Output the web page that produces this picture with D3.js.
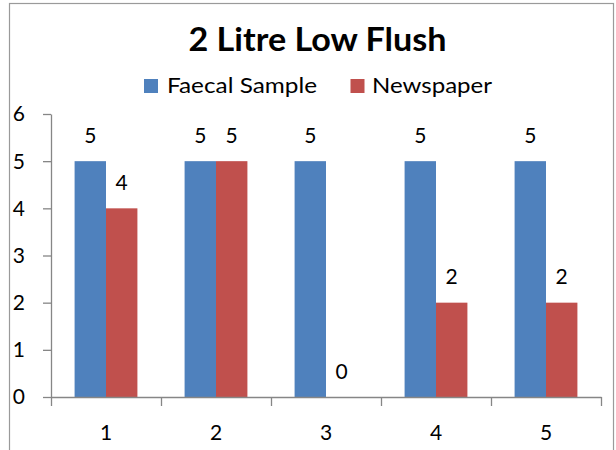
<!DOCTYPE html>
<html>
<head>
<meta charset="utf-8">
<script src="https://cdn.jsdelivr.net/npm/d3@7"></script>
<style>
  html, body { margin: 0; padding: 0; background: #fff; }
  svg { display: block; font-family: Lato, "Open Sans", sans-serif; }
</style>
</head>
<body>
<svg id="chart" width="616" height="450"></svg>
<script>
// Chart data
const title = "2 Litre Low Flush";
const categories = ["1", "2", "3", "4", "5"];
const seriesNames = ["Faecal Sample", "Newspaper"];
const faecalSample = [5, 5, 5, 5, 5];
const newspaper = [4, 5, 0, 2, 2];
const yTicks = [0, 1, 2, 3, 4, 5, 6];
const colors = ["#4F81BD", "#C0504D"];

const seriesValues = [faecalSample, newspaper];
const table = categories.map((c, i) => ({
  category: c,
  values: seriesNames.map((s, j) => ({ series: s, idx: j, value: seriesValues[j][i] }))
}));

const svg = d3.select("#chart");
const axisColor = "#868686";
const numFont = 21;

// Outer chart frame
svg.append("rect")
  .attr("x", 9.5).attr("y", 3.5)
  .attr("width", 604).attr("height", 470)
  .attr("fill", "#fff")
  .attr("stroke", "#9a9a9a").attr("stroke-width", 1.2);

// Plot area
const plotLeft = 51, plotRight = 601, plotTop = 114, plotBottom = 397;

const x = d3.scaleBand()
  .domain(categories)
  .range([plotLeft, plotRight])
  .paddingInner(0.429)
  .paddingOuter(0.2145);

const xSeries = d3.scaleBand()
  .domain(seriesNames)
  .range([0, x.bandwidth()]);

const y = d3.scaleLinear()
  .domain([0, 6])
  .range([plotBottom, plotTop]);

// Bars
const groups = svg.append("g").selectAll("g")
  .data(table).join("g")
  .attr("transform", d => `translate(${x(d.category)},0)`);

groups.selectAll("rect")
  .data(d => d.values).join("rect")
  .attr("x", d => xSeries(d.series))
  .attr("y", d => y(d.value))
  .attr("width", xSeries.bandwidth())
  .attr("height", d => y(0) - y(d.value))
  .attr("fill", d => colors[d.idx]);

// Value labels above each bar
groups.selectAll("text")
  .data(d => d.values).join("text")
  .attr("x", d => xSeries(d.series) + xSeries.bandwidth() / 2)
  .attr("y", d => y(d.value) - 18.5)
  .attr("text-anchor", "middle")
  .attr("font-size", numFont)
  .attr("fill", "#000")
  .text(d => d.value);

// Y axis
const yAxis = svg.append("g")
  .attr("transform", `translate(${plotLeft},0)`)
  .call(d3.axisLeft(y).tickValues(yTicks).tickSize(8).tickSizeOuter(0).tickPadding(18).tickFormat(d3.format("d")));
yAxis.select(".domain").attr("stroke", axisColor).attr("stroke-width", 1.3);
yAxis.selectAll(".tick line").attr("stroke", axisColor).attr("stroke-width", 1.3);
yAxis.selectAll(".tick text")
  .attr("font-size", numFont).attr("fill", "#000")
  .attr("font-family", "Lato, sans-serif")
  .attr("dy", "0.33em");

// X axis: tick marks at category boundaries
const xEdges = d3.scaleLinear().domain([0, categories.length]).range([plotLeft, plotRight]);
const xAxisTicks = svg.append("g")
  .attr("transform", `translate(0,${plotBottom})`)
  .call(d3.axisBottom(xEdges).ticks(categories.length).tickSize(9).tickSizeOuter(0).tickFormat(""));
xAxisTicks.select(".domain").attr("stroke", axisColor).attr("stroke-width", 1.3);
xAxisTicks.selectAll(".tick line").attr("stroke", axisColor).attr("stroke-width", 1.3);

// X axis: category labels centred in each band
const xAxisLabels = svg.append("g")
  .attr("transform", `translate(0,${plotBottom})`)
  .call(d3.axisBottom(x).tickSize(0).tickSizeOuter(0));
xAxisLabels.select(".domain").remove();
xAxisLabels.selectAll(".tick text")
  .attr("font-size", numFont).attr("fill", "#000")
  .attr("font-family", "Lato, sans-serif")
  .attr("y", 43).attr("dy", 0);

// Title
svg.append("text")
  .attr("x", 317.5).attr("y", 51)
  .attr("text-anchor", "middle")
  .attr("font-size", 33)
  .attr("font-weight", "bold")
  .attr("fill", "#000")
  .attr("textLength", 258)
  .attr("lengthAdjust", "spacingAndGlyphs")
  .text(title);

// Legend
const legendItems = [
  { name: seriesNames[0], color: colors[0], sx: 144, tx: 167, w: 150 },
  { name: seriesNames[1], color: colors[1], sx: 350.5, tx: 372, w: 120 }
];
const legend = svg.append("g");
legendItems.forEach(it => {
  legend.append("rect")
    .attr("x", it.sx).attr("y", 79)
    .attr("width", 14).attr("height", 14)
    .attr("fill", it.color);
  legend.append("text")
    .attr("x", it.tx).attr("y", 93)
    .attr("font-size", 22)
    .attr("fill", "#000")
    .attr("textLength", it.w)
    .attr("lengthAdjust", "spacingAndGlyphs")
    .text(it.name);
});
</script>
</body>
</html>
